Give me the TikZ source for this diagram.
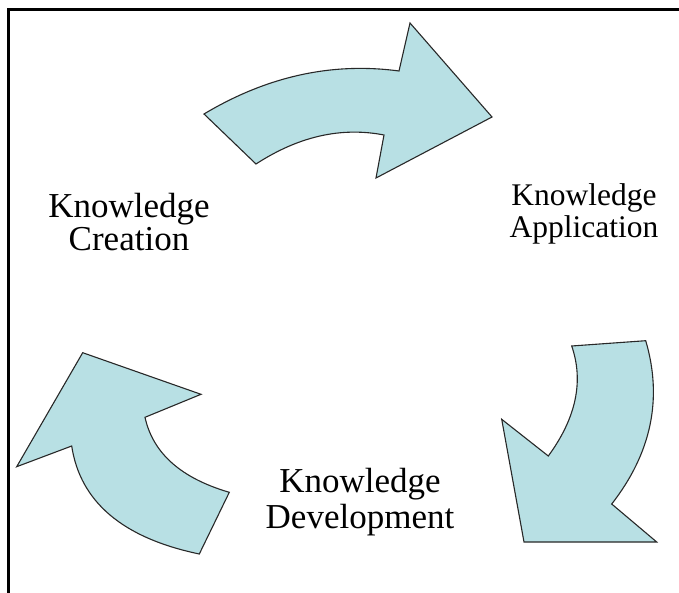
\documentclass[tikz,border=0pt]{standalone}
\usepackage{fontspec}
\setmainfont{Liberation Serif}
\definecolor{arrowfill}{RGB}{184,224,228}
\definecolor{arrowline}{RGB}{40,40,40}
\tikzset{
  cyclearrow/.style={fill=arrowfill, draw=arrowline, line width=1.1pt, line join=miter},
  framelinestyle/.style={line width=2.6pt, draw=black},
  biglabel/.style={align=center, inner sep=0pt, font=\fontsize{35}{33}\selectfont},
  smalllabel/.style={align=center, inner sep=0pt, font=\fontsize{31.5}{31.5}\selectfont}
}
\begin{document}
\begin{tikzpicture}[x=1pt,y=-1pt]
\useasboundingbox (0,0) rectangle (679,593);
% frame
\coordinate (fr1) at (679,9.5);
\coordinate (fr2) at (8.7,9.5);
\coordinate (fr3) at (8.7,593);
\draw[framelinestyle] (fr1) -- (fr2) -- (fr3);

% top arrow (Creation -> Application)
\draw[cyclearrow] (204,114) -- (256,164)
  .. controls (298.7,136.3) and (341.3,126.7) .. (384,135)
  -- (376,178) -- (492,117) -- (410,23) -- (399,71)
  .. controls (332,62) and (267,76.3) .. (204,114) -- cycle;

% right arrow (Application -> Development)
\draw[cyclearrow] (571.7,346) -- (645.7,340.7)
  .. controls (662.8,398.6) and (651.4,453.1) .. (611.7,504)
  -- (656.7,542) -- (524,542) -- (501.7,419.3) -- (548.3,456)
  .. controls (576.1,418) and (583.9,381.3) .. (571.7,346) -- cycle;

% left arrow (Development -> Creation)
\draw[cyclearrow] (82.7,352.7) -- (201,394.3) -- (145,417.3)
  .. controls (152.9,453.2) and (181,478.2) .. (229.3,492.3)
  -- (199.3,554)
  .. controls (122.8,538) and (80.2,502) .. (71.7,446)
  -- (16.7,466.7) -- cycle;

% labels
\node[biglabel] (creation) at (129,222) {Knowledge\\Creation};
\node[smalllabel] (application) at (584,214) {Knowledge\\Application};
\node[biglabel, font=\fontsize{35}{36}\selectfont] (development) at (360,502) {Knowledge\\Development};
\end{tikzpicture}
\end{document}
